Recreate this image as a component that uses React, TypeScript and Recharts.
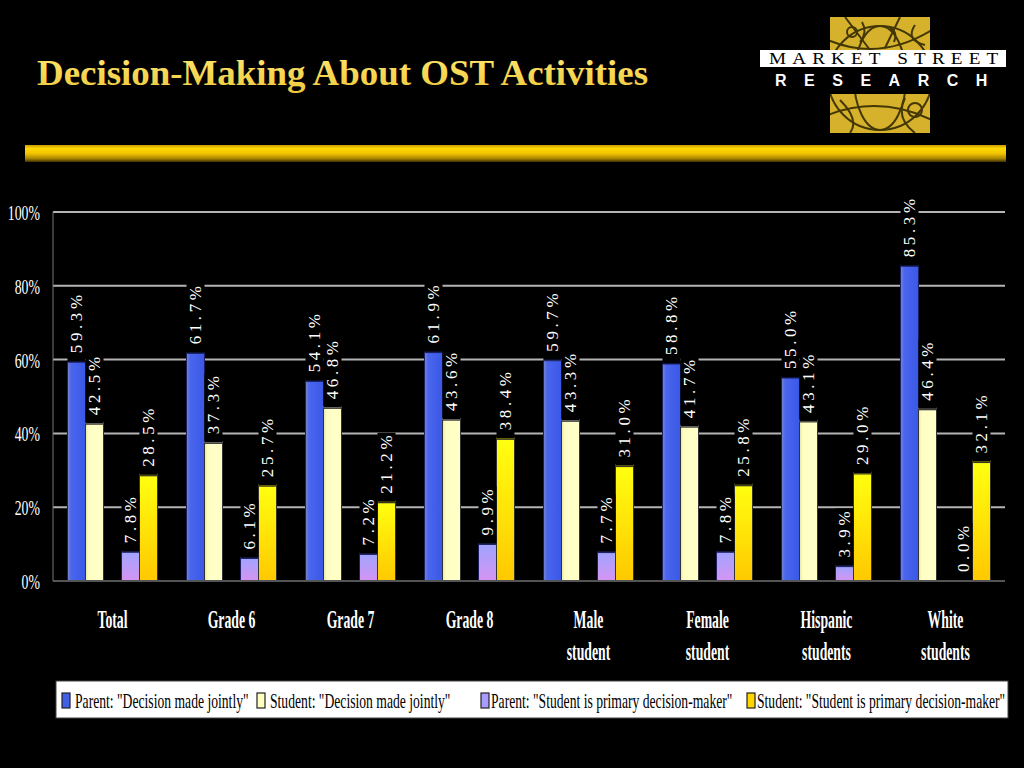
import React from "react";
import {
  BarChart,
  Bar,
  XAxis,
  YAxis,
  CartesianGrid,
  LabelList,
  ReferenceLine,
} from "recharts";

// ---------- data ----------
const categories = [
  "Total",
  "Grade 6",
  "Grade 7",
  "Grade 8",
  "Male\nstudent",
  "Female\nstudent",
  "Hispanic\nstudents",
  "White\nstudents",
];
const parentJointly = [59.3, 61.7, 54.1, 61.9, 59.7, 58.8, 55.0, 85.3];
const studentJointly = [42.5, 37.3, 46.8, 43.6, 43.3, 41.7, 43.1, 46.4];
const parentPrimary = [7.8, 6.1, 7.2, 9.9, 7.7, 7.8, 3.9, 0.0];
const studentPrimary = [28.5, 25.7, 21.2, 38.4, 31.0, 25.8, 29.0, 32.1];
const yTicks = [0, 20, 40, 60, 80, 100];

const seriesNames = [
  'Parent: "Decision made jointly"',
  'Student: "Decision made jointly"',
  'Parent: "Student is primary decision-maker"',
  'Student: "Student is primary decision-maker"',
];

const data = categories.map((name, i) => ({
  name,
  pj: parentJointly[i],
  sj: studentJointly[i],
  pp: parentPrimary[i],
  sp: studentPrimary[i],
}));

// ---------- styles ----------
const SERIF = "Liberation Serif, Times New Roman, serif";
const series = [
  { key: "pj", grad: "gBlue", edge: "#1a2060", top: "#1c2a80", swatch: "#4060E8" },
  { key: "sj", grad: "gCream", edge: "#333333", top: "#FFFFFF", swatch: "#FFFFC0" },
  { key: "pp", grad: "gLav", edge: "#202060", top: "#3040a0", swatch: "#A89CFF" },
  { key: "sp", grad: "gYellow", edge: "#333333", top: "#FFF000", swatch: "#FFD700" },
];

const makeShape = (s: any) => (props: any) => {
  const { x, y, width, height } = props;
  if (height == null || height < 0.5) return <g />;
  return (
    <g>
      <rect
        x={x}
        y={y}
        width={width}
        height={height}
        fill={`url(#${s.grad})`}
        stroke={s.edge}
        strokeWidth={1}
      />
      <line x1={x} x2={x + width} y1={y - 1.5} y2={y - 1.5} stroke={s.top} strokeWidth={1.5} />
    </g>
  );
};

const renderLabel = (props: any) => {
  const vb = props.viewBox && props.viewBox.width != null ? props.viewBox : props;
  const { x, y, width } = vb;
  const value = props.value;
  if (value == null || x == null) return null;
  const text = Number(value).toFixed(1) + "%";
  const len = text.length * 11.8;
  const cx = x + width / 2;
  return (
    <g>
      <rect x={x} y={y - len - 11} width={width} height={len + 10} fill="#000" />
      <text
        transform={`translate(${cx + 5.5}, ${y - 9}) rotate(-90)`}
        fill="#ffffff"
        fontFamily={SERIF}
        fontSize={17}
        letterSpacing={3.6}
        textAnchor="start"
      >
        {text}
      </text>
    </g>
  );
};

const CategoryTick = (props: any) => {
  const { x, y, payload } = props;
  const lines = String(payload.value).split("\n");
  return (
    <g transform={`translate(${x},${y})`}>
      {lines.map((l, i) => (
        <text
          key={i}
          x={0}
          y={47 + i * 32}
          textAnchor="middle"
          transform="scale(0.55,1)"
          fill="#ffffff"
          fontFamily={SERIF}
          fontWeight="bold"
          fontSize={25}
        >
          {l}
        </text>
      ))}
    </g>
  );
};

const PercentTick = (props: any) => {
  const { x, y, payload } = props;
  return (
    <g transform={`translate(${x - 13},${y + 8})`}>
      <text
        x={0}
        y={0}
        textAnchor="end"
        transform="scale(0.69,1)"
        fill="#ffffff"
        fontFamily={SERIF}
        fontSize={20}
      >
        {payload.value + "%"}
      </text>
    </g>
  );
};

const legendLayout = [
  { sq: 62, tx: 75 },
  { sq: 257, tx: 270 },
  { sq: 481, tx: 491 },
  { sq: 747, tx: 757 },
];

const Overlay = () => (
  <svg
    width={1024}
    height={768}
    style={{ position: "absolute", left: 0, top: 0, pointerEvents: "none" }}
  >
    <defs>
      <linearGradient id="gTitle" x1="0" y1="0" x2="0" y2="1">
        <stop offset="0" stopColor="#FFE870" />
        <stop offset="1" stopColor="#EEC83A" />
      </linearGradient>
      <linearGradient id="gBand" x1="0" y1="0" x2="0" y2="1">
        <stop offset="0" stopColor="#C89A00" />
        <stop offset="0.2" stopColor="#FFD800" />
        <stop offset="0.5" stopColor="#F2C400" />
        <stop offset="0.8" stopColor="#A88400" />
        <stop offset="1" stopColor="#3E3000" />
      </linearGradient>
      <clipPath id="logoClip">
        <rect x={830} y={17} width={100} height={116} />
      </clipPath>
    </defs>
    {/* title */}
    <g transform="translate(37,85) scale(1.025,1)">
      <text
        x={0}
        y={0}
        fontFamily={SERIF}
        fontWeight="bold"
        fontSize={36}
        fill="url(#gTitle)"
      >
        Decision-Making About OST Activities
      </text>
    </g>
    {/* gold band */}
    <rect x={25} y={145} width={981} height={17} fill="url(#gBand)" />
    {/* logo */}
    <g clipPath="url(#logoClip)">
      <rect x={830} y={17} width={100} height={116} fill="#D6B22C" />
      <g stroke="#2a2200" strokeWidth={2} fill="none" opacity={0.85}>
        <circle cx={880} cy={78} r={52} />
        <ellipse cx={880} cy={78} rx={26} ry={52} />
        <path d="M828 40 Q880 62 932 30" />
        <path d="M828 115 Q880 95 932 120" />
        <path d="M845 17 L870 50 M900 17 L885 48 M915 25 Q905 40 925 45" />
        <path d="M840 100 Q860 120 850 133 M905 98 Q895 118 915 133" />
        <path d="M862 22 q6 10 -2 20 M890 28 q8 4 4 14" />
        <circle cx={915} cy={110} r={7} />
        <circle cx={852} cy={32} r={5} />
      </g>
    </g>
    <rect x={760} y={50} width={246} height={17} fill="#ffffff" />
    <rect x={830} y={67} width={100} height={27} fill="#000000" />
    <g transform="translate(769,64) scale(1.2,1)">
      <text x={0} y={0} fontFamily={SERIF} fontSize={16} fill="#000" letterSpacing={5.1}>
        MARKET STREET
      </text>
    </g>
    <text
      x={775}
      y={86}
      fontFamily="Liberation Sans, Arial, sans-serif"
      fontWeight="bold"
      fontSize={16}
      fill="#fff"
      letterSpacing={17.5}
    >
      RESEARCH
    </text>
    {/* legend */}
    <rect x={56} y={681} width={952} height={37} fill="#ffffff" stroke="#444" strokeWidth={1} />
    {series.map((s, i) => (
      <g key={s.key}>
        <rect
          x={legendLayout[i].sq}
          y={693}
          width={8}
          height={15}
          fill={s.swatch}
          stroke="#222"
          strokeWidth={1.2}
        />
        <g transform={`translate(${legendLayout[i].tx},708) scale(0.62,1)`}>
          <text x={0} y={0} fontFamily={SERIF} fontSize={22} fill="#000">
            {seriesNames[i]}
          </text>
        </g>
      </g>
    ))}
  </svg>
);

export default function App() {
  return (
    <div
      style={{
        position: "absolute",
        left: 0,
        top: 0,
        width: 1024,
        height: 768,
        background: "#000",
        overflow: "hidden",
      }}
    >
      <svg width={0} height={0} style={{ position: "absolute" }}>
        <defs>
          <linearGradient id="gBlue" x1="0" y1="0" x2="1" y2="0">
            <stop offset="0" stopColor="#7B86C8" />
            <stop offset="0.2" stopColor="#4A66EE" />
            <stop offset="1" stopColor="#3A58E6" />
          </linearGradient>
          <linearGradient id="gCream" x1="0" y1="0" x2="1" y2="0">
            <stop offset="0" stopColor="#E6E6A0" />
            <stop offset="0.18" stopColor="#FFFFC4" />
            <stop offset="1" stopColor="#FFFFC8" />
          </linearGradient>
          <linearGradient id="gLav" x1="0" y1="0" x2="0" y2="1">
            <stop offset="0" stopColor="#A0A4FF" />
            <stop offset="1" stopColor="#D694F2" />
          </linearGradient>
          <linearGradient id="gYellow" x1="0" y1="0" x2="0" y2="1">
            <stop offset="0" stopColor="#FFFF10" />
            <stop offset="1" stopColor="#FFC800" />
          </linearGradient>
        </defs>
      </svg>
      <div style={{ position: "absolute", left: 0, top: 0 }}>
        <BarChart
          width={1024}
          height={768}
          data={data}
          margin={{ top: 212, right: 19, left: 0, bottom: 107 }}
          barCategoryGap={14.5}
          barGap={0}
        >
          <CartesianGrid vertical={false} stroke="#B4B4B4" strokeWidth={2} />
          <XAxis
            dataKey="name"
            interval={0}
            height={80}
            tickLine={false}
            tickSize={0}
            tickMargin={0}
            axisLine={{ stroke: "#555", strokeWidth: 1.5 }}
            tick={<CategoryTick />}
          />
          <YAxis
            domain={[0, 100]}
            ticks={yTicks}
            width={53}
            tickLine={false}
            tickSize={0}
            tickMargin={0}
            axisLine={{ stroke: "#777", strokeWidth: 1 }}
            tick={<PercentTick />}
          />
          <YAxis
            yAxisId="right"
            orientation="right"
            domain={[0, 100]}
            ticks={yTicks}
            width={0}
            tick={false}
            tickLine={false}
            axisLine={{ stroke: "#999", strokeWidth: 2 }}
          />
          <ReferenceLine y={0} stroke="#555" strokeWidth={2} />
          <Bar dataKey="pj" isAnimationActive={false} shape={makeShape(series[0])}>
            <LabelList dataKey="pj" content={renderLabel} />
          </Bar>
          <Bar dataKey="sj" isAnimationActive={false} shape={makeShape(series[1])}>
            <LabelList dataKey="sj" content={renderLabel} />
          </Bar>
          <Bar dataKey="spacer" isAnimationActive={false} fill="transparent" legendType="none" />
          <Bar dataKey="pp" isAnimationActive={false} shape={makeShape(series[2])}>
            <LabelList dataKey="pp" content={renderLabel} />
          </Bar>
          <Bar dataKey="sp" isAnimationActive={false} shape={makeShape(series[3])}>
            <LabelList dataKey="sp" content={renderLabel} />
          </Bar>
        </BarChart>
      </div>
      <Overlay />
    </div>
  );
}
